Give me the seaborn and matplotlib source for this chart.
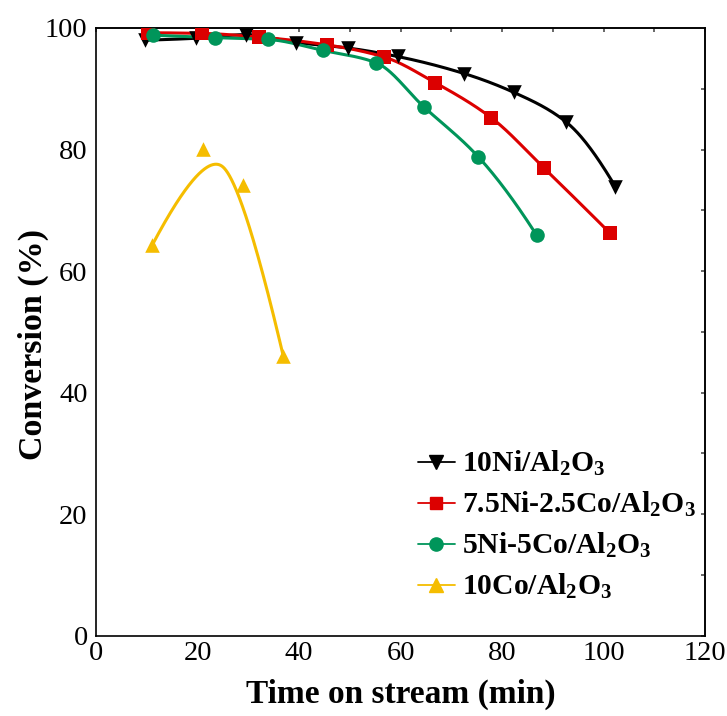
import numpy as np
import pandas as pd
import matplotlib
matplotlib.use("Agg")
import matplotlib.pyplot as plt
import seaborn as sns
from matplotlib.lines import Line2D
from matplotlib.ticker import MultipleLocator

# ---- data ----
ni10_x = [9.6, 19.8, 29.6, 39.4, 49.6, 59.4, 72.5, 82.3, 92.5, 102.3]
ni10_y = [98.0, 98.3, 98.9, 97.6, 96.7, 95.3, 92.5, 89.4, 84.6, 73.9]

nico75_x = [10.3, 20.8, 32.2, 45.6, 56.8, 66.8, 77.9, 88.3, 101.3]
nico75_y = [99.2, 99.1, 98.5, 97.2, 95.2, 91.0, 85.2, 76.9, 66.2]

nico55_x = [11.3, 23.4, 33.9, 44.7, 55.1, 64.6, 75.3, 86.8]
nico55_y = [98.8, 98.4, 98.1, 96.3, 94.3, 87.0, 78.8, 65.9]

co10_x = [11.1, 21.1, 29.0, 36.9]
co10_y = [64.3, 80.1, 74.1, 46.0]

labels = [r"10Ni/Al$_2$O$_3$", r"7.5Ni-2.5Co/Al$_2$O$_3$",
          r"5Ni-5Co/Al$_2$O$_3$", r"10Co/Al$_2$O$_3$"]
colors = ["#000000", "#dc0000", "#00955a", "#f5bd00"]
markers = ["v", "s", "o", "^"]
msizes = [10.5, 9.5, 10.5, 10.5]
smoothing = ["pchip", "pchip", "pchip", "bspline"]

x_ticks = [0, 20, 40, 60, 80, 100, 120]
y_ticks = [0, 20, 40, 60, 80, 100]


def bspline(xs, ys, k=2, num=400):
    P = np.column_stack([xs, ys]).astype(float)
    n = len(P)
    k = min(k, n - 1)
    inner = np.linspace(0, 1, n - k + 1)[1:-1]
    t = np.concatenate([np.zeros(k + 1), inner, np.ones(k + 1)])
    u = np.linspace(0, 1, num)
    m = len(t) - 1
    B = np.zeros((num, m))
    for i in range(m):
        B[:, i] = ((t[i] <= u) & (u < t[i + 1])).astype(float)
    last = max(i for i in range(m) if t[i] < t[i + 1])
    B[-1, :] = 0
    B[-1, last] = 1
    for p in range(1, k + 1):
        Bn = np.zeros((num, m - p))
        for i in range(m - p):
            a = np.zeros(num)
            b = np.zeros(num)
            d1 = t[i + p] - t[i]
            d2 = t[i + p + 1] - t[i + 1]
            if d1 > 0:
                a = (u - t[i]) / d1 * B[:, i]
            if d2 > 0:
                b = (t[i + p + 1] - u) / d2 * B[:, i + 1]
            Bn[:, i] = a + b
        B = Bn
    C = B @ P
    return C[:, 0], C[:, 1]


def pchip(xs, ys, num=400):
    x = np.asarray(xs, float)
    y = np.asarray(ys, float)
    n = len(x)
    h = np.diff(x)
    dl = np.diff(y) / h
    d = np.zeros(n)
    for i in range(1, n - 1):
        if dl[i - 1] * dl[i] > 0:
            w1 = 2 * h[i] + h[i - 1]
            w2 = h[i] + 2 * h[i - 1]
            d[i] = (w1 + w2) / (w1 / dl[i - 1] + w2 / dl[i])
    def end(h0, h1, m0, m1):
        dd = ((2 * h0 + h1) * m0 - h0 * m1) / (h0 + h1)
        if np.sign(dd) != np.sign(m0):
            dd = 0
        elif np.sign(m0) != np.sign(m1) and abs(dd) > abs(3 * m0):
            dd = 3 * m0
        return dd
    d[0] = end(h[0], h[1], dl[0], dl[1])
    d[-1] = end(h[-1], h[-2], dl[-1], dl[-2])
    xx = np.linspace(x[0], x[-1], num)
    idx = np.clip(np.searchsorted(x, xx) - 1, 0, n - 2)
    hh = h[idx]
    s = (xx - x[idx]) / hh
    h00 = 2 * s ** 3 - 3 * s ** 2 + 1
    h10 = s ** 3 - 2 * s ** 2 + s
    h01 = -2 * s ** 3 + 3 * s ** 2
    h11 = s ** 3 - s ** 2
    yy = h00 * y[idx] + h10 * hh * d[idx] + h01 * y[idx + 1] + h11 * hh * d[idx + 1]
    return xx, yy


sns.set_theme(style="white")
plt.rcParams["font.family"] = ["Liberation Serif", "DejaVu Serif"]
plt.rcParams["mathtext.default"] = "regular"
plt.rcParams["text.color"] = "black"
plt.rcParams["axes.labelcolor"] = "black"
plt.rcParams["xtick.color"] = "black"
plt.rcParams["ytick.color"] = "black"
plt.rcParams["xtick.direction"] = "in"
plt.rcParams["ytick.direction"] = "in"

fig = plt.figure(figsize=(7.27, 7.16), dpi=100)
ax = fig.add_axes([0.132, 0.112, 0.838, 0.849])

series = [(ni10_x, ni10_y), (nico75_x, nico75_y), (nico55_x, nico55_y), (co10_x, co10_y)]
handles = []
for (xs, ys), lab, c, mk, ms, sm in zip(series, labels, colors, markers, msizes, smoothing):
    if sm == "bspline":
        cx, cy = bspline(xs, ys, k=2)
    else:
        cx, cy = pchip(xs, ys)
    curve = pd.DataFrame({"x": cx, "y": cy})
    sns.lineplot(data=curve, x="x", y="y", ax=ax, color=c, lw=2.2, sort=False,
                 estimator=None)
    pts = pd.DataFrame({"x": xs, "y": ys})
    sns.scatterplot(data=pts, x="x", y="y", ax=ax, color=c, marker=mk,
                    s=ms ** 2, linewidth=0, zorder=3)
    handles.append(Line2D([], [], color=c, marker=mk, markersize=ms - 1,
                          lw=1.3, label=lab))

ax.set_xlim(0, 120)
ax.set_ylim(0, 100)
ax.set_xticks(x_ticks)
ax.set_yticks(y_ticks)
ax.xaxis.set_minor_locator(MultipleLocator(10))
ax.yaxis.set_minor_locator(MultipleLocator(10))
ax.tick_params(which="major", length=5, width=1.0, labelsize=20.5, color="black",
               labelcolor="black", pad=4, top=False, right=False)
ax.tick_params(axis="y", which="major", pad=6)
ax.tick_params(which="minor", length=3, width=1.0, color="black", top=False, right=False)

for s in ax.spines.values():
    s.set_color("black")
    s.set_linewidth(1.2)

# top & right ticks (inward, every 10)
axt = ax.secondary_xaxis("top")
axt.set_xticks(np.arange(0, 121, 10))
axt.tick_params(direction="in", length=3, labeltop=False, color="#555555")
axr = ax.secondary_yaxis("right")
axr.set_yticks(np.arange(0, 101, 10))
axr.tick_params(direction="in", length=3, labelright=False, color="#555555")

ax.set_xlabel("Time on stream (min)", fontsize=24, fontweight="bold", color="black")
ax.set_ylabel("Conversion (%)", fontsize=24.5, fontweight="bold", color="black")
ax.xaxis.set_label_coords(0.5, -(679 - 636) / 608)
ax.yaxis.set_label_coords((49 - 96) / 609, (636 - 345) / 608)

leg = ax.legend(handles=handles, loc="upper left",
                bbox_to_anchor=(418 / 727, 1 - 449 / 716),
                bbox_transform=fig.transFigure, frameon=False,
                prop={"size": 21.3, "weight": "bold"}, handlelength=1.25,
                handletextpad=0.25, labelspacing=0.4, borderpad=0,
                borderaxespad=0)
for t in leg.get_texts():
    t.set_color("black")

fig.savefig("out.png", dpi=100)
